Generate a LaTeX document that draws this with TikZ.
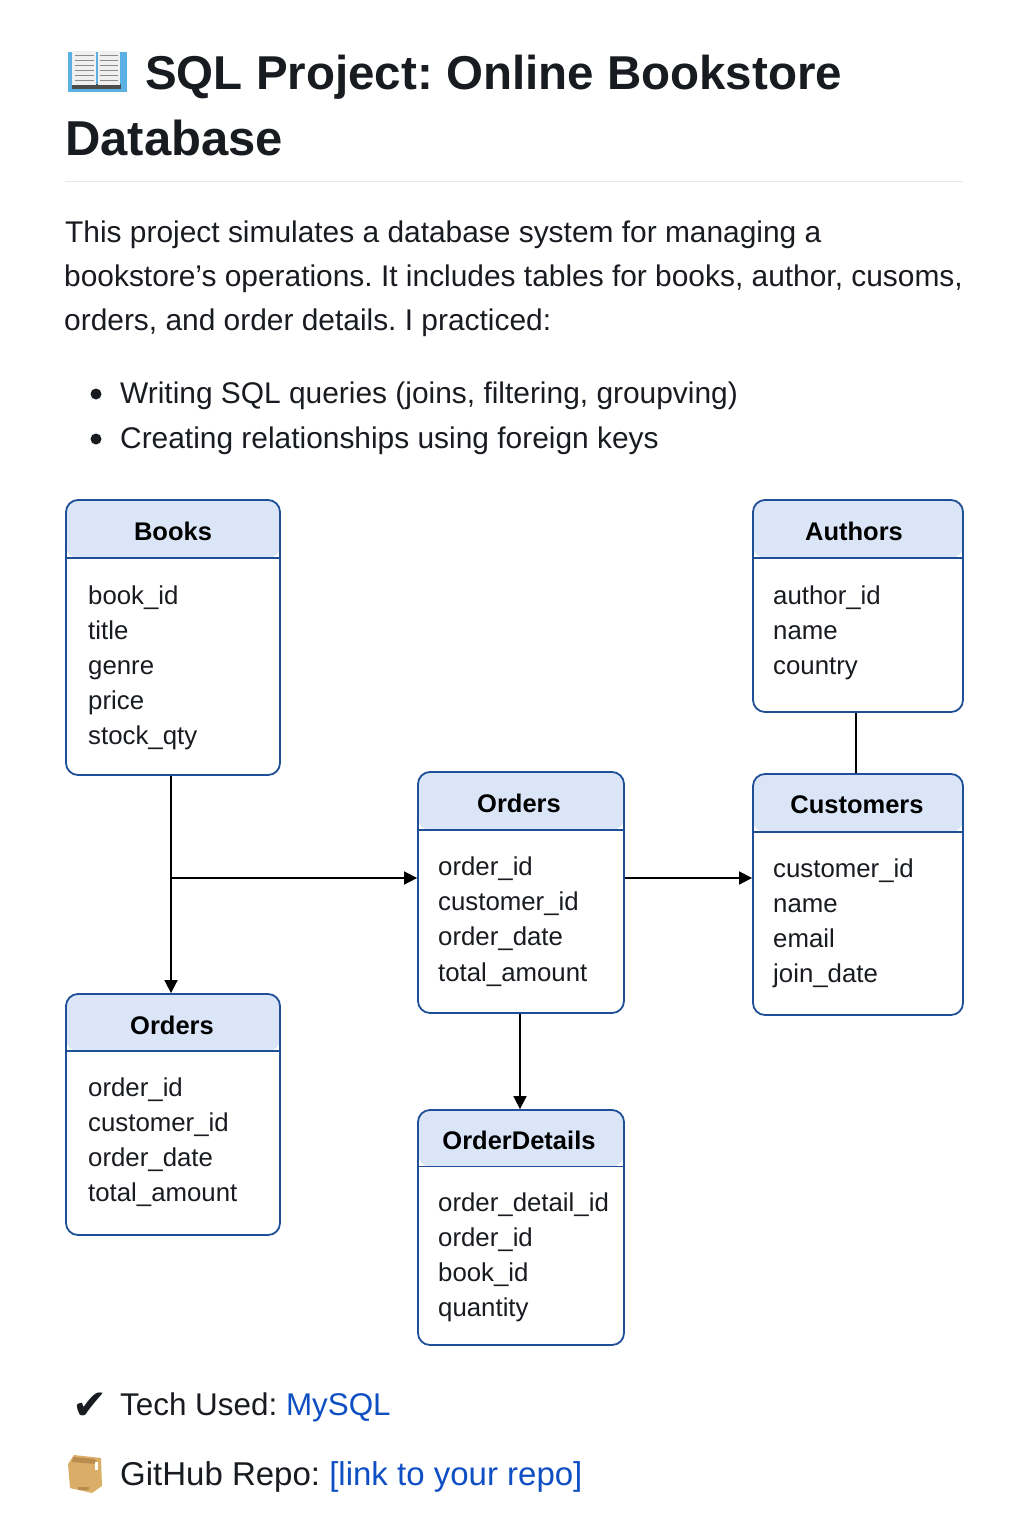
\documentclass[tikz,border=0pt]{standalone}
\usepackage{fontspec}
\setmainfont{Liberation Sans}
\newfontfamily\symbfont{DejaVu Sans}
\usetikzlibrary{arrows.meta}
\definecolor{inkblack}{HTML}{181B1F}
\definecolor{boxblue}{HTML}{1F4F96}
\definecolor{headblue}{HTML}{DAE6F8}
\definecolor{linkblue}{HTML}{0F4FC4}
\definecolor{rulegrey}{HTML}{E6E8EB}
\definecolor{coverblue}{HTML}{5AAFE3}
\definecolor{parceltan}{HTML}{DBAE68}
\definecolor{parceldark}{HTML}{B98B4C}
\tikzset{
	tablebox/.style={draw=boxblue, line width=1.8pt, rounded corners=12pt, fill=white, inner sep=0pt,
		path picture={
			\fill[headblue] (path picture bounding box.north west) rectangle ([yshift=-#1pt]path picture bounding box.north east);
			\draw[boxblue, line width=1.8pt] ([yshift=-#1pt]path picture bounding box.north west) -- ([yshift=-#1pt]path picture bounding box.north east);
		}},
	tablebox/.default=58,
	tabletitle/.style={font=\fontsize{25.5}{30}\selectfont\bfseries, text=black, inner sep=0pt},
	tablefields/.style={font=\fontsize{25.8}{35.1}\selectfont, text=inkblack, align=left, anchor=north west, inner sep=0pt},
	bigtitle/.style={font=\fontsize{49}{60}\selectfont\bfseries, text=inkblack, anchor=base west, inner sep=0pt},
	bodytext/.style={font=\fontsize{29.9}{44}\selectfont, text=inkblack, anchor=base west, inner sep=0pt},
	footertext/.style={bodytext, font=\fontsize{#1}{44}\selectfont},
	conn/.style={line width=1.7pt, black},
	arrowconn/.style={conn, -{Triangle[length=13pt,width=13pt]}},
	bulletdot/.style={circle, fill=inkblack, minimum size=11pt, inner sep=0pt},
}
\frenchspacing
\begin{document}
\begin{tikzpicture}[x=1pt,y=-1pt]
	\useasboundingbox (0,0) rectangle (1024,1536);
	% open book
	\fill[coverblue] (68,52) rectangle (127,92);
	\fill[black!70] (72,84) rectangle (121,89);
	\fill[black!6] (72,51) rectangle (96,85);
	\fill[black!6] (98,51) rectangle (120,85);
	\foreach \y in {56,61,66,71,76,81} {
		\draw[black!45, line width=1pt] (75,\y) -- (94,\y);
		\draw[black!45, line width=1pt] (100,\y) -- (118,\y);
	}
	% heading
	\node[bigtitle, font=\fontsize{47.5}{60}\selectfont\bfseries] (title1) at (145,90) {SQL Project: Online Bookstore};
	\node[bigtitle] (title2) at (65,156) {Database};
	\draw[rulegrey, line width=1pt] (65,181) -- (963,181);
	% intro
	\node[bodytext] (intro1) at (65,242) {This project simulates a database system for managing a};
	\node[bodytext] (intro2) at (64,286) {bookstore’s operations. It includes tables for books, author, cusoms,};
	\node[bodytext] (intro3) at (64,330) {orders, and order details. I practiced:};
	\node[bulletdot] (dot1) at (96,394) {};
	\node[bulletdot] (dot2) at (96,439) {};
	\node[bodytext] (item1) at (120,403) {Writing SQL queries (joins, filtering, groupving)};
	\node[bodytext] (item2) at (120,448) {Creating relationships using foreign keys};
	% tables
	\node[tablebox, minimum width=214pt, minimum height=275pt] (books) at (173,637.5) {};
	\node[tabletitle] (booksName) at (173,531) {Books};
	\node[tablefields] (booksRows) at (88,585.3) {book\_id\\title\\genre\\price\\stock\_qty};
	\node[tablebox, minimum width=210pt, minimum height=212pt] (authors) at (858,606) {};
	\node[tabletitle] (authorsName) at (854,531) {Authors};
	\node[tablefields] (authorsRows) at (773,585.3) {author\_id\\name\\country};
	\node[tablebox, minimum width=206pt, minimum height=241pt] (ordersMid) at (521,892.5) {};
	\node[tabletitle] (ordersMidName) at (519,803) {Orders};
	\node[tablefields] (ordersMidRows) at (438,856.8) {order\_id\\customer\_id\\order\_date\\total\_amount};
	\node[tablebox, minimum width=210pt, minimum height=241pt] (customers) at (858,894.5) {};
	\node[tabletitle] (customersName) at (857,805) {Customers};
	\node[tablefields] (customersRows) at (773,858.5) {customer\_id\\name\\email\\join\_date};
	\node[tablebox=57, minimum width=214pt, minimum height=241pt] (ordersLeft) at (173,1114.5) {};
	\node[tabletitle] (ordersLeftName) at (172,1025) {Orders};
	\node[tablefields] (ordersLeftRows) at (88,1077.7) {order\_id\\customer\_id\\order\_date\\total\_amount};
	\node[tablebox=56.5, minimum width=206pt, minimum height=235pt] (details) at (521,1227.5) {};
	\node[tabletitle] (detailsName) at (519,1140) {OrderDetails};
	\node[tablefields] (detailsRows) at (438,1192.7) {order\_detail\_id\\order\_id\\book\_id\\quantity};
	% connectors
	\coordinate (booksTee) at (171,878);
	\draw[arrowconn] (booksTee |- books.south) -- (booksTee |- ordersLeft.north);
	\draw[arrowconn] (booksTee) -- (booksTee -| ordersMid.west);
	\draw[arrowconn] (booksTee -| ordersMid.east) -- (booksTee -| customers.west);
	\draw[arrowconn] ([xshift=-1pt]ordersMid.south) -- ([xshift=-1pt]details.north);
	\draw[conn] ([xshift=-2pt]authors.south) -- ([xshift=-2pt]customers.north);
	% footer
	\node[font=\fontsize{42}{44}\selectfont\symbfont, text=inkblack, anchor=base west, inner sep=0pt] (techMark) at (72,1419) {✔};
	\node[footertext=31.4] (techLine) at (120,1415) {Tech Used: \textcolor{linkblue}{MySQL}};
	% parcel
	\fill[parceltan] (68,1464) -- (74,1455) -- (101,1458) -- (102,1486) -- (92,1493) -- (70,1488) -- cycle;
	\fill[parceldark] (73,1457) -- (95,1459) -- (97,1464) -- (72,1462) -- cycle;
	\fill[white] (95,1462) rectangle (98,1470);
	\fill[parceldark] (78,1487) rectangle (89,1490);
	\node[footertext=33] (repoLine) at (120,1485) {GitHub Repo: \textcolor{linkblue}{[link to your repo]}};
\end{tikzpicture}
\end{document}
